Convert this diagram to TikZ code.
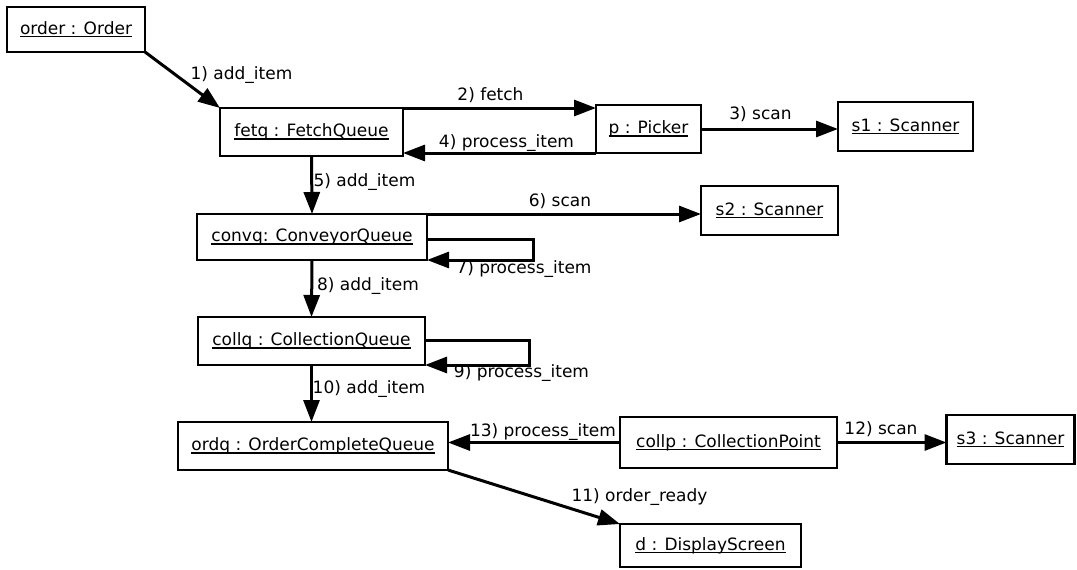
\documentclass[tikz,border=0pt]{standalone}
\usepackage{fontspec}
\setmainfont{DejaVu Sans}
\usetikzlibrary{arrows.meta}
% object name, underlined UML style
\newcommand\objname[1]{\setbox0\hbox{#1}\rlap{\rule[-3pt]{\wd0}{1.3pt}}\box0}
\begin{document}
\begin{tikzpicture}[x=1pt,y=-1pt,
  font=\fontsize{17}{20}\selectfont,
  obj/.style={draw,line width=2.8pt,rectangle,inner sep=0pt,outer sep=0pt},
  msg/.style={line width=3pt,-{Triangle[length=22pt,width=16pt]}},
  lbl/.style={inner sep=0pt}]
\fill[white] (0,0) rectangle (1077,570);
\useasboundingbox (0,0) rectangle (1077,570);

% objects
\node[obj,minimum width=138pt,minimum height=45pt] (order) at (76,29.5) {\objname{order : Order}};
\node[obj,minimum width=183pt,minimum height=48pt] (fetq) at (311.5,132) {\objname{fetq : FetchQueue}};
\node[obj,minimum width=105pt,minimum height=48pt] (p) at (648.5,129) {\objname{p : Picker}};
\node[obj,minimum width=135pt,minimum height=49pt] (s1) at (905.5,126.5) {\objname{s1 : Scanner}};
\node[obj,minimum width=230pt,minimum height=46pt] (convq) at (312,237) {\objname{convq: ConveyorQueue}};
\node[obj,minimum width=137pt,minimum height=49pt] (s2) at (769.5,210.5) {\objname{s2 : Scanner}};
\node[obj,minimum width=227pt,minimum height=48pt] (collq) at (311.5,341) {\objname{collq : CollectionQueue}};
\node[obj,minimum width=270pt,minimum height=48pt] (ordq) at (313,446) {\objname{ordq : OrderCompleteQueue}};
\node[obj,minimum width=217pt,minimum height=51pt] (collp) at (728.5,442.5) {\objname{collp : CollectionPoint}};
\node[obj,minimum width=128pt,minimum height=49pt] (s3) at (1010.5,439.5) {\objname{s3 : Scanner}};
\node[obj,minimum width=181pt,minimum height=43pt] (d) at (710.5,545.5) {\objname{d : DisplayScreen}};

% messages
\draw[msg] (order.south east) -- (fetq.north west);
\draw[msg] (fetq.north east) -- (fetq.north east -| p.west);
\draw[msg] (p.east) -- (p.east -| s1.west);
\draw[msg] (p.south west) -- (p.south west -| fetq.east);
\draw[msg] (fetq.south) -- (convq.north);
\draw[msg] (convq.north east) -- (convq.north east -| s2.west);
\draw[msg] ([yshift=-2pt]convq.east) -- ++(106,0) |- (convq.south east);
\draw[msg] (convq.south) -- (collq.north);
\draw[msg] ([yshift=1pt]collq.east) -- ++(104,0) |- (collq.south east);
\draw[msg] (collq.south) -- (collq.south |- ordq.north);
\draw[msg] (ordq.south east) -- (d.north west);
\draw[msg] (collp.east) -- (collp.east -| s3.west);
\draw[msg] (collp.west) -- (collp.west -| ordq.east);

% message labels
\node[lbl] (l1) at (241.5,75) {1) add\_item};
\node[lbl] (l2) at (490.5,95) {2) fetch};
\node[lbl] (l3) at (760.5,114) {3) scan};
\node[lbl] (l4) at (506.5,143) {4) process\_item};
\node[lbl] (l5) at (364.5,182) {5) add\_item};
\node[lbl] (l6) at (560,201) {6) scan};
\node[lbl] (l7) at (524,269) {7) process\_item};
\node[lbl] (l8) at (368,286) {8) add\_item};
\node[lbl] (l9) at (521.5,373) {9) process\_item};
\node[lbl] (l10) at (369,389) {10) add\_item};
\node[lbl] (l11) at (639.5,497) {11) order\_ready};
\node[lbl] (l12) at (881,429) {12) scan};
\node[lbl] (l13) at (543,432) {13) process\_item};
\end{tikzpicture}
\end{document}
